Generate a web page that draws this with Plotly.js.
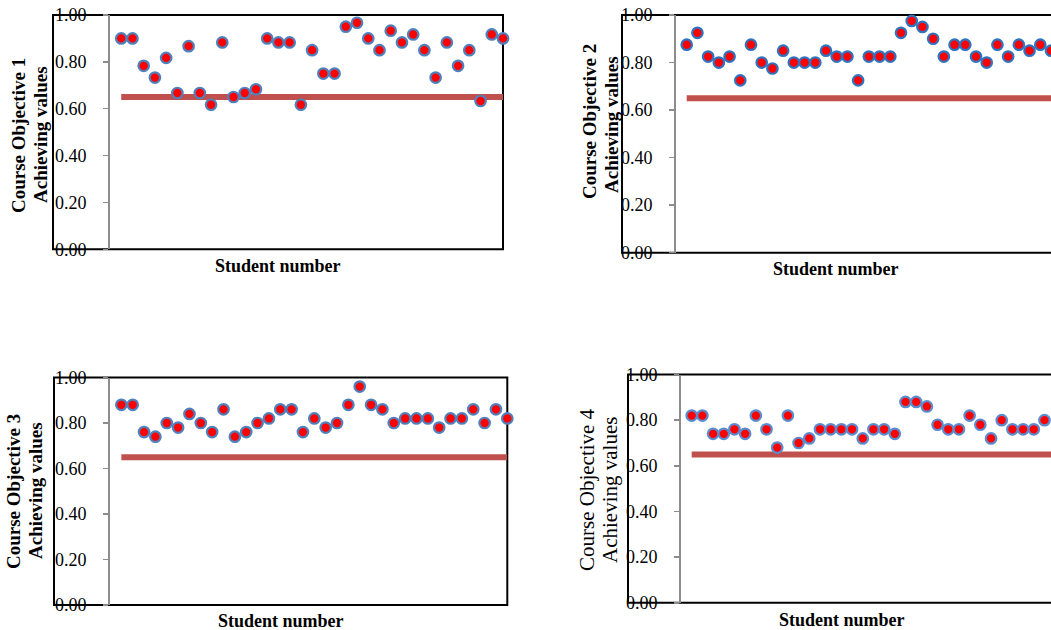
<!DOCTYPE html>
<html>
<head>
<meta charset="utf-8">
<script src="https://cdn.plot.ly/plotly-3.0.1.min.js"></script>
<style>html,body{margin:0;padding:0;background:#fff;}#chart{width:1051px;height:630px;}</style>
</head>
<body>
<div id="chart"></div>
<script>
// ---- data ----
const students = [1,2,3,4,5,6,7,8,9,10,11,12,13,14,15,16,17,18,19,20,21,22,23,24,25,26,27,28,29,30,31,32,33,34,35];
const obj1 = [0.900,0.900,0.783,0.733,0.817,0.667,0.867,0.667,0.617,0.883,0.650,0.667,0.683,0.900,0.883,0.883,0.617,0.850,0.750,0.750,0.950,0.967,0.900,0.850,0.933,0.883,0.917,0.850,0.733,0.883,0.783,0.850,0.633,0.917,0.900];
const obj2 = [0.875,0.925,0.825,0.800,0.825,0.725,0.875,0.800,0.775,0.850,0.800,0.800,0.800,0.850,0.825,0.825,0.725,0.825,0.825,0.825,0.925,0.975,0.950,0.900,0.825,0.875,0.875,0.825,0.800,0.875,0.825,0.875,0.850,0.875,0.850];
const obj3 = [0.88,0.88,0.76,0.74,0.80,0.78,0.84,0.80,0.76,0.86,0.74,0.76,0.80,0.82,0.86,0.86,0.76,0.82,0.78,0.80,0.88,0.96,0.88,0.86,0.80,0.82,0.82,0.82,0.78,0.82,0.82,0.86,0.80,0.86,0.82];
const obj4 = [0.82,0.82,0.74,0.74,0.76,0.74,0.82,0.76,0.68,0.82,0.70,0.72,0.76,0.76,0.76,0.76,0.72,0.76,0.76,0.74,0.88,0.88,0.86,0.78,0.76,0.76,0.82,0.78,0.72,0.80,0.76,0.76,0.76,0.80,0.76];
const target = 0.65;
const yTitles = [["Course Objective 1","Achieving values"],["Course Objective 2","Achieving values"],["Course Objective 3","Achieving values"],["Course Objective 4","Achieving values"]];
const xTitle = "Student number";
const yTicks = [0,0.2,0.4,0.6,0.8,1.0];

// ---- geometry (pixels) ----
const W = 1051, H = 630;
const px = x => x / W;
const py = y => 1 - y / H;
const panels = [
  {series: obj1, plotX: [110, 503], plotY: [15, 249.3], frameX: [53, 503], xr: [0, 35], edge: '#4f81bd',
   tX: [18, 40], tY: [136, 135], bold: true, tSize: 19, xtX: 278, xtY: 266},
  {series: obj2, plotX: [676, 1051], plotY: [15, 252.7], frameX: [622, 1053], xr: [0, 35], edge: '#2f74c0',
   tX: [590, 612], tY: [122, 125], bold: true, tSize: 19, xtX: 836, xtY: 269},
  {series: obj3, plotX: [110, 507.3], plotY: [377.5, 605], frameX: [54, 507.3], xr: [0, 35], edge: '#4f81bd',
   tX: [13, 35], tY: [492, 491], bold: true, tSize: 19, xtX: 281, xtY: 621},
  {series: obj4, plotX: [681, 1051], plotY: [374.5, 602.8], frameX: [628, 1058], xr: [0, 34.61], edge: '#5a8ccf',
   tX: [587, 610], tY: [490, 490], bold: false, tSize: 21, xtX: 842, xtY: 620}
];

const traces = [];
const layout = {
  width: W, height: H,
  margin: {l: 0, r: 0, t: 0, b: 0, pad: 0},
  paper_bgcolor: '#ffffff',
  plot_bgcolor: 'rgba(0,0,0,0)',
  showlegend: false,
  font: {family: '"Liberation Serif", "Times New Roman", serif', color: '#000'},
  shapes: [],
  annotations: []
};

panels.forEach((p, i) => {
  const n = i + 1;
  const xa = 'x' + (n === 1 ? '' : n), ya = 'y' + (n === 1 ? '' : n);
  traces.push({
    x: students, y: students.map(() => target), xaxis: xa, yaxis: ya,
    type: 'scatter', mode: 'lines', line: {color: '#c0504d', width: 6},
    hoverinfo: 'skip', cliponaxis: false
  });
  traces.push({
    x: students, y: p.series, xaxis: xa, yaxis: ya,
    type: 'scatter', mode: 'markers', cliponaxis: false,
    marker: {color: '#ff0000', size: 10.5, line: {color: p.edge, width: 2.2}}
  });
  layout['xaxis' + (n === 1 ? '' : n)] = {
    domain: [px(p.plotX[0]), Math.min(1, px(p.plotX[1]))],
    range: p.xr, anchor: ya,
    showline: false, showgrid: false, zeroline: false, showticklabels: false, ticks: ''
  };
  layout['yaxis' + (n === 1 ? '' : n)] = {
    domain: [py(p.plotY[1]), py(p.plotY[0])],
    range: [0, 1], anchor: xa,
    tickvals: yTicks, tickformat: '.2f',
    showline: true, linecolor: '#8c8c8c', linewidth: 2,
    ticks: 'outside', ticklen: 5, tickcolor: '#8c8c8c', tickwidth: 1.5,
    ticklabelstandoff: 13,
    tickfont: {size: 18, color: '#000', family: '"Liberation Serif", serif'},
    showgrid: false, zeroline: false
  };
  // black frame
  layout.shapes.push({
    type: 'rect', xref: 'paper', yref: 'paper', layer: 'below',
    x0: px(p.frameX[0]), x1: px(p.frameX[1]), y0: py(p.plotY[1]), y1: py(p.plotY[0]),
    line: {color: '#000', width: 2}, fillcolor: 'rgba(0,0,0,0)'
  });
  // y titles (two lines)
  yTitles[i].forEach((t, k) => {
    layout.annotations.push({
      xref: 'paper', yref: 'paper', x: px(p.tX[k]), y: py(p.tY[k]),
      xanchor: 'center', yanchor: 'middle', showarrow: false, textangle: -90,
      text: p.bold ? '<b>' + t + '</b>' : t,
      font: {size: p.tSize, color: '#000', family: '"Liberation Serif", serif'}
    });
  });
  // x title
  layout.annotations.push({
    xref: 'paper', yref: 'paper', x: px(p.xtX), y: py(p.xtY),
    xanchor: 'center', yanchor: 'middle', showarrow: false,
    text: '<b>' + xTitle + '</b>',
    font: {size: 18, color: '#000', family: '"Liberation Serif", serif'}
  });
});

Plotly.newPlot('chart', traces, layout, {displayModeBar: false, staticPlot: true});
</script>
</body>
</html>
